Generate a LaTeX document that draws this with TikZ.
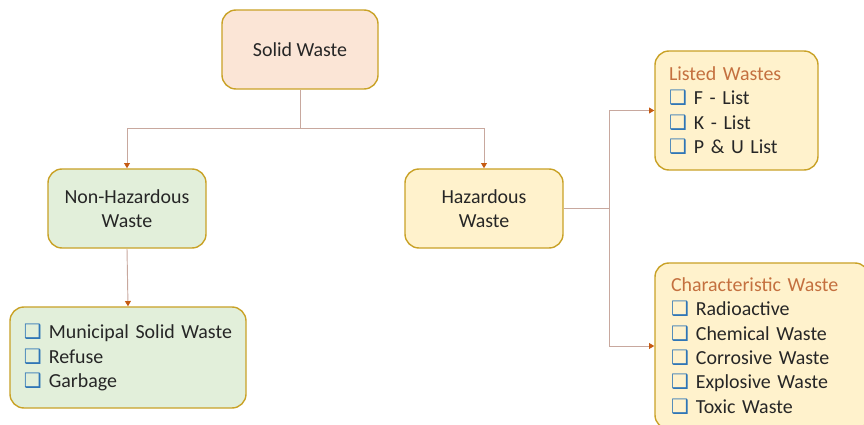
\documentclass[tikz,border=0pt]{standalone}
\usepackage{fontspec}
\setmainfont{Carlito}
\newfontfamily\dejavu{DejaVu Sans}
\usetikzlibrary{arrows.meta}
\definecolor{bordo}{HTML}{C9A227}
\definecolor{rosa}{HTML}{FBE5D6}
\definecolor{verde}{HTML}{E2EFDA}
\definecolor{giallo}{HTML}{FFF2CC}
\definecolor{linea}{HTML}{C8A89E}
\definecolor{punta}{HTML}{C55A11}
\definecolor{titolo}{HTML}{C4703F}
\definecolor{blu}{HTML}{2E75B6}
\definecolor{testo}{HTML}{262626}
\newcommand{\chk}[1]{\mbox{{\dejavu\color{blu}\fontsize{17}{17}\selectfont ❑}\hspace{6pt}#1}}
\begin{document}
\begin{tikzpicture}[
			x=0.03cm, y=-0.03cm,
			font=\fontsize{17}{20.8}\selectfont, text=testo,
			scatola/.style={draw=bordo, line width=1.2pt,
				rounded corners=0.42cm, align=center,
				minimum width=4.74cm, minimum height=2.37cm},
			lista/.style={scatola, align=left, inner xsep=0pt},
			freccia/.style={draw=linea, line width=0.8pt,
				-{Triangle[color=punta, width=5pt, length=4.5pt]}},
			ramo/.style={draw=linea, line width=0.8pt}]
			\useasboundingbox (0,0) rectangle (864,425);
			
			%% livello superiore
			\node[scatola, fill=rosa, minimum width=4.68cm] (sw) at (300,49.5) {Solid Waste};
			
			%% secondo livello
			\node[scatola, fill=verde] (nhw) at (127,208.5) {Non-Hazardous\\Waste};
			\node[scatola, fill=giallo] (hw) at (484,208.5) {Hazardous\\Waste};
			
			%% elenchi
			\node[lista, fill=verde, minimum width=7.08cm, minimum height=3.03cm,
				text width=6.24cm] (msw) at (128,357.5)
				{\chk{Municipal Solid Waste}\\ \chk{Refuse}\\ \chk{Garbage}};
			\node[lista, fill=giallo, minimum width=4.89cm, minimum height=3.57cm,
				text width=4.05cm] (lw) at (736.5,110.5)
				{\textcolor{titolo}{Listed Wastes}\\ \chk{F - List}\\ \chk{K - List}\\ \chk{P \& U List}};
			\node[lista, fill=giallo, minimum width=6.42cm, minimum height=4.98cm,
				text width=5.46cm] (cw) at (762,346)
				{\textcolor{titolo}{Characteristic Waste}\\ \chk{Radioactive}\\ \chk{Chemical Waste}\\
				\chk{Corrosive Waste}\\ \chk{Explosive Waste}\\ \chk{Toxic Waste}};
			
			%% collegamenti
			\coordinate (j1) at (300,128);
			\draw[ramo] (sw.south) -- (j1);
			\draw[freccia] (j1) -| (nhw.north);
			\draw[freccia] (j1) -| (hw.north);
			\draw[freccia] (nhw.south) -- (msw.north);
			\coordinate (j2) at (609,208.5);
			\draw[ramo] (hw.east) -- (j2);
			\draw[freccia] (j2) |- (lw.west);
			\draw[freccia] (j2) |- (cw.west);
		\end{tikzpicture}
\end{document}
